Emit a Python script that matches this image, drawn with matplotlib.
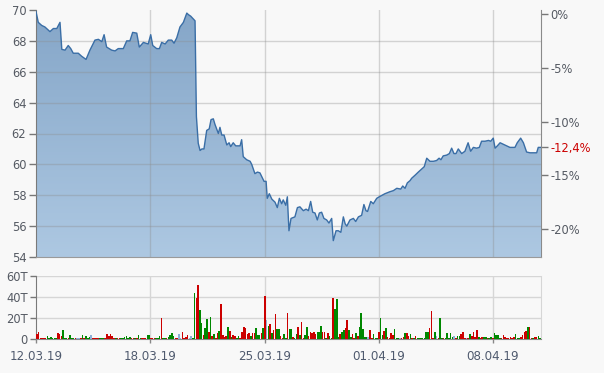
import numpy as np
import matplotlib
matplotlib.use('Agg')
import matplotlib.pyplot as plt
from matplotlib.colors import LinearSegmentedColormap
from matplotlib.patches import Polygon

# ---------------- data ----------------
# time in trading days since 12.03.19
price_t = [0.00,0.10,0.25,0.39,0.54,0.61,0.76,0.91,0.98,1.05,
           1.13,1.27,1.41,1.52,1.63,1.85,2.00,2.19,2.36,2.58,
           2.73,2.88,2.98,3.09,3.31,3.46,3.60,3.82,3.97,4.11,
           4.23,4.41,4.52,4.70,4.91,5.02,5.11,5.28,5.40,5.50,
           5.65,5.79,5.94,6.04,6.16,6.30,6.45,6.60,6.67,6.77,
           6.96,7.02,7.10,7.18,7.26,7.35,7.47,7.58,7.66,7.76,
           7.83,7.98,8.05,8.13,8.23,8.35,8.45,8.52,8.63,8.74,
           8.93,9.00,9.07,9.22,9.37,9.44,9.58,9.69,9.80,9.88,
           9.98,10.07,10.12,10.21,10.32,10.46,10.56,10.65,10.75,10.82,
           10.93,11.00,11.07,11.16,11.33,11.44,11.55,11.70,11.82,11.92,
           12.02,12.11,12.21,12.31,12.40,12.50,12.60,12.72,12.82,12.94,
           13.01,13.13,13.23,13.34,13.45,13.53,13.60,13.74,13.89,13.99,
           14.11,14.25,14.35,14.44,14.51,14.65,14.76,14.91,15.02,15.27,
           15.49,15.64,15.79,15.96,16.05,16.15,16.25,16.37,16.44,16.59,
           16.73,16.88,16.99,17.10,17.24,17.39,17.53,17.64,17.72,17.82,
           17.97,18.09,18.19,18.29,18.38,18.48,18.63,18.77,18.91,19.02,
           19.14,19.28,19.40,19.50,19.65,19.80,19.90,20.01,20.09,20.19,
           20.31,20.45,20.60,20.74,20.96,21.06,21.21,21.33,21.47,21.62,
           21.76,21.91,21.98,22.10]
price = [69.9,69.2,69.0,68.9,68.7,68.6,68.8,68.8,69.0,69.2,
         67.45,67.4,67.7,67.5,67.2,67.2,67.0,66.8,67.4,68.05,
         68.1,67.95,68.4,67.6,67.4,67.35,67.5,67.5,68.0,68.0,
         68.55,68.5,67.6,67.9,67.8,68.4,67.7,67.5,67.5,67.9,
         67.8,68.05,68.05,67.85,68.2,68.9,69.2,69.8,69.7,69.6,
         69.3,63.1,61.37,60.9,61.0,61.0,62.2,62.3,62.9,62.95,
         62.6,62.0,62.4,61.9,61.9,61.26,61.4,61.15,61.4,61.2,
         61.2,61.6,60.5,60.3,60.2,60.0,59.4,59.5,59.45,59.2,
         58.9,58.9,57.8,58.1,57.75,57.55,57.2,57.8,57.45,57.7,
         57.35,57.9,55.7,56.5,56.6,57.2,57.25,57.0,57.1,57.0,
         57.6,56.9,56.85,56.4,56.85,56.9,56.5,56.4,56.2,56.5,
         55.06,55.7,55.7,55.6,56.6,56.15,56.0,56.4,56.5,56.3,
         56.6,56.7,57.4,57.0,56.95,57.6,57.45,57.8,57.9,58.1,
         58.23,58.3,58.45,58.4,58.6,58.45,58.8,58.95,59.1,59.3,
         59.5,59.7,59.85,60.4,60.2,60.2,60.25,60.4,60.3,60.55,
         60.6,60.7,61.05,60.7,60.7,61.0,60.7,60.85,61.4,60.85,
         61.1,61.05,61.1,61.5,61.5,61.55,61.5,61.7,61.05,61.2,
         61.4,61.3,61.2,61.1,61.1,61.4,61.7,61.4,60.8,60.75,
         60.75,60.75,61.1,61.1]
ref_price = 69.75   # 0 % reference

# volume in thousands (T); direction: r = down, g = up, b = unchanged
vol = [4.8,6.7,1,1,1,1,2.9,1,1.9,1,0.5,1,
       5.8,4.5,2.9,8.6,1,1,1,3.5,1,1,
       1,1,1,1,3.5,1,2.9,1,1.9,3.8,1,1,
       1,1,1,1,1,1,4.8,2.9,4.8,2.9,1,1,
       1,0.5,0.5,1,1.9,2.9,1,1.9,1,1,0.5,1,
       3.5,1,0.5,1,1,3.5,3.5,1,1,1,1,1,
       2.9,20,1,1,1,1.9,3.8,5.8,2.9,1,1,
       4.8,1,6.7,1,1.9,3.8,1,2.9,1,44,39.4,51.8,27.8,15.4,3.8,10.6,19.2,6.7,21,2.9,
       4.8,1,5.8,7.7,33.6,3.8,1.9,2.9,
       11.5,7.7,1.9,3.8,2.9,1,2.9,1,6.7,11.5,10.6,4.8,5.8,2.9,5.8,5.8,10.6,3.8,3.8,
       5.8,10.6,41.3,18.2,12.5,14.4,5.8,8.6,24,9.6,9.6,2.9,1,4.8,1,25,
       9.6,9.6,1.9,1,4.8,11.5,3.8,16.3,1,
       3.8,11.5,2.9,6.7,5.8,6.7,4.8,6.7,6.7,12.5,
       6.7,6.7,1,5.8,2.9,1,39.4,28.8,38.4,1.9,
       4.8,6.7,8.6,10.6,18.2,8.6,1.9,4.8,1,
       5.8,2.9,11.5,25,9.6,1.9,1.9,1.9,8.6,1,
       4.8,1,1,6.7,20,3.8,7.7,10.6,1.9,
       1,5.8,3.8,9.6,1,1,1,1,1.9,5.8,
       5.8,2.9,4.8,1,1,2.9,1,1,1,
       1,1,6.7,6.7,10.6,27,1,6.7,2.9,1,
       20,1,1,1,5.8,1,5.8,1.9,2.9,
       1,2.9,2.9,4.8,6.7,1,1,1,4.8,2.9,
       6.7,1.9,8.6,1.9,1,1.9,1.9,1.9,1,1,
       1.9,1,5.8,3.8,3.8,1,1,3.8,
       1.9,1,1,1.9,1,1.9,4.8,1,
       1,1.9,3.8,6.7,7.7,11.5,11.5,1,1,1.9,
       1.9,2.9,1]
vol_dir = ("rrrrrrgggggg" "rrrgggrggg" "rbbrgrgggbrr" "rrgggrrrrrrg" "rrggggggrrgr"
           "ggrrrggrrrgg" "grggrggggrr"
           "bbrrrrbbgg" "rrggrggrgr" "grrgrrrr"
           "grgrrggrrr" "rrrgrrggg" "rgrbgrgrrg" "grrggr"
           "ggrggrgrr" "ggrrrrrggg" "rrgrggrggg" "rggrrggrr" "grgggggbrr"
           "gggrggrgr" "rrrgggbrrg" "rrgrgrggg" "ggggrrrgbr" "ggrgggggb"
           "rggrrrbrgr" "rrrgrrggrg" "grggggrr" "rrrrrrgg" "grrrrgrrgr" "rgg")

date_ticks = [0, 5, 10, 15, 20]
date_labels = ['12.03.19', '18.03.19', '25.03.19', '01.04.19', '08.04.19']
price_ticks = [54, 56, 58, 60, 62, 64, 66, 68, 70]
pct_ticks = [0, -5, -10, -15, -20]
vol_ticks = [0, 20, 40, 60]
vol_labels = ['0', '20T', '40T', '60T']

# ---------------- style ----------------
BG = '#f8f8f8'
TXT = '#555a63'
GRID = '#d6d6d6'
plt.rcParams['font.family'] = ['DejaVu Sans']
W, H = 604, 373
fig = plt.figure(figsize=(W / 100, H / 100), dpi=100, facecolor=BG)

xmax = price_t[-1]
ax = fig.add_axes([36 / W, (H - 257) / H, 505 / W, 247 / H], facecolor=BG)
axv = fig.add_axes([36 / W, (H - 339) / H, 505 / W, 63 / H], facecolor=BG)

# ---- price area with gradient ----
ymin, ymax = price_ticks[0], price_ticks[-1]
cmap = LinearSegmentedColormap.from_list('g', ['#adc8e2', '#85a6c8'])
grad = np.linspace(0, 1, 256).reshape(-1, 1)
im = ax.imshow(grad, extent=[0, xmax, ymin, ymax], origin='lower', aspect='auto',
               cmap=cmap, zorder=1, interpolation='bilinear')
verts = np.column_stack([np.r_[price_t, price_t[::-1]],
                         np.r_[price, np.full(len(price), ymin)]])
clip = Polygon(verts, closed=True, transform=ax.transData, fc='none', ec='none')
ax.add_patch(clip)
im.set_clip_path(clip)
ax.plot(price_t, price, color='#3a6ea6', lw=1.0, zorder=4)

for y in price_ticks[1:-1]:
    ax.axhline(y, color='#8c8c8c', alpha=0.35, lw=1, zorder=3)
for x in date_ticks[1:]:
    ax.axvline(x, color='#8c8c8c', alpha=0.35, lw=1, zorder=3)

ax.set_xlim(0, xmax)
ax.set_ylim(ymin, ymax)
ax.set_yticks(price_ticks)
ax.set_yticklabels([str(v) for v in price_ticks])
ax.set_xticks([])
ax.tick_params(axis='y', colors='#777777', labelcolor=TXT, labelsize=8.3,
               length=5, width=1, pad=2, direction='out')
ax.spines['top'].set_visible(False)
ax.spines['left'].set_color('#7a7a7a')
ax.spines['bottom'].set_color('#9a9a9a')
ax.spines['right'].set_visible(False)

# ---- right percent axis ----
def p2pct(p):
    return (np.asarray(p) / ref_price - 1) * 100

def pct2p(q):
    return ref_price * (1 + np.asarray(q) / 100)

last_pct = (price[-1] / ref_price - 1) * 100
sec = ax.secondary_yaxis('right', functions=(p2pct, pct2p))
all_pct = pct_ticks + [last_pct]
sec.set_yticks(all_pct)
labels = [('-' if v < 0 else '') + f'{abs(v):d}%' for v in pct_ticks]
labels.append('-' + f'{abs(last_pct):.1f}'.replace('.', ',') + '%')
sec.set_yticklabels(labels)
sec.tick_params(axis='y', colors='#777777', labelcolor=TXT, labelsize=8.3,
                length=5, width=1, pad=1.5, direction='out')
sec.spines['right'].set_color('#8a8a8a')
ticks = sec.yaxis.get_major_ticks()
red = '#cc0000'
sec.get_yticklabels()[-1].set_color(red)
ticks[-1].tick1line.set_color(red)
ticks[-1].tick2line.set_color(red)

# ---- volume ----
n = len(vol)
assert n == len(vol_dir)
step = xmax / n
vx = (np.arange(n) + 0.5) * step
cmapd = {'r': '#cc0000', 'g': '#008800', 'b': '#8db0d8'}
vcol = [cmapd[c] for c in vol_dir]
axv.bar(vx, vol, width=step * 0.9, color=vcol, zorder=3, linewidth=0)
axv.set_xlim(0, xmax)
axv.set_ylim(vol_ticks[0], vol_ticks[-1])
axv.set_yticks(vol_ticks)
axv.set_yticklabels(vol_labels)
axv.set_xticks(date_ticks)
axv.set_xticklabels(date_labels)
for y in vol_ticks[1:]:
    axv.axhline(y, color=GRID, lw=1, zorder=1)
for x in date_ticks[1:]:
    axv.axvline(x, color=GRID, lw=1, zorder=1)
axv.tick_params(axis='y', colors='#777777', labelcolor=TXT, labelsize=8.3,
                length=4, width=1, pad=2)
axv.tick_params(axis='x', colors='#888888', labelcolor='#4f5a6e', labelsize=8.6,
                length=3, width=1, pad=5)
axv.spines['top'].set_visible(False)
axv.spines['left'].set_color('#7a7a7a')
axv.spines['bottom'].set_color('#8a8a8a')
axv.spines['right'].set_color(GRID)

fig.savefig('out.png', dpi=100, facecolor=BG)
